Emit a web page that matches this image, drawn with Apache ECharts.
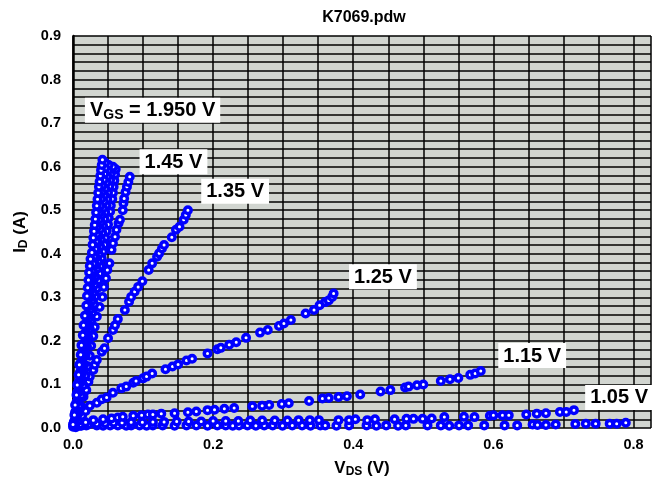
<!DOCTYPE html>
<html>
<head>
<meta charset="utf-8">
<script src="https://cdn.jsdelivr.net/npm/echarts@6/dist/echarts.min.js"></script>
<style>
  html, body { margin: 0; padding: 0; background: #ffffff; }
  #chart { width: 654px; height: 487px; }
</style>
</head>
<body>
<div id="chart"></div>
<script>
// Output characteristics, I_D vs V_DS, one sweep per gate voltage.
const chartTitle = 'K7069.pdw';

const xTickLabels = [0.0, 0.2, 0.4, 0.6, 0.8];
const yTickLabels = [0.0, 0.1, 0.2, 0.3, 0.4, 0.5, 0.6, 0.7, 0.8, 0.9];

// [V_DS (V), I_D (A)] pairs per gate voltage
const vgs095 = [[0.000,0.003],[0.010,0.005],[0.019,0.006],[0.034,0.006],[0.043,0.005],[0.053,0.006],[0.064,0.006],[0.076,0.005],[0.083,0.006],[0.095,0.006],[0.105,0.005],[0.114,0.006],[0.128,0.006],[0.145,0.005],[0.162,0.006],[0.176,0.006],[0.192,0.005],[0.206,0.006],[0.218,0.006],[0.228,0.005],[0.237,0.006],[0.249,0.006],[0.261,0.005],[0.273,0.006],[0.285,0.006],[0.299,0.005],[0.313,0.006],[0.327,0.006],[0.339,0.005],[0.353,0.006],[0.360,0.006],[0.376,0.005],[0.394,0.006],[0.419,0.006],[0.433,0.005],[0.447,0.006],[0.464,0.005],[0.475,0.006],[0.506,0.006],[0.525,0.006],[0.537,0.005],[0.551,0.006],[0.564,0.006],[0.587,0.006],[0.616,0.006],[0.634,0.006],[0.656,0.008],[0.663,0.007],[0.675,0.007],[0.689,0.008],[0.717,0.009],[0.732,0.010],[0.746,0.010],[0.766,0.010],[0.776,0.010],[0.789,0.012]];

const vgs105 = [[0.004,0.002],[0.012,0.005],[0.022,0.008],[0.034,0.010],[0.046,0.011],[0.058,0.012],[0.070,0.012],[0.083,0.013],[0.099,0.013],[0.114,0.014],[0.130,0.014],[0.148,0.015],[0.165,0.015],[0.183,0.015],[0.200,0.016],[0.218,0.016],[0.236,0.016],[0.253,0.017],[0.270,0.017],[0.288,0.017],[0.306,0.017],[0.322,0.018],[0.338,0.018],[0.351,0.018],[0.379,0.018],[0.394,0.018],[0.403,0.020],[0.420,0.018],[0.431,0.020],[0.459,0.020],[0.476,0.021],[0.486,0.021],[0.499,0.021],[0.512,0.022],[0.530,0.025],[0.558,0.026],[0.573,0.025],[0.595,0.028],[0.600,0.029],[0.613,0.029],[0.622,0.029],[0.647,0.031],[0.662,0.033],[0.675,0.034],[0.695,0.037],[0.704,0.037],[0.715,0.041]];

const vgs115 = [[0.004,0.004],[0.010,0.008],[0.018,0.013],[0.029,0.018],[0.043,0.020],[0.055,0.022],[0.064,0.024],[0.071,0.026],[0.086,0.028],[0.098,0.029],[0.107,0.031],[0.114,0.031],[0.126,0.033],[0.145,0.034],[0.164,0.036],[0.176,0.038],[0.192,0.041],[0.202,0.042],[0.216,0.044],[0.230,0.046],[0.256,0.050],[0.270,0.051],[0.280,0.053],[0.298,0.055],[0.308,0.057],[0.337,0.062],[0.356,0.068],[0.365,0.069],[0.379,0.071],[0.391,0.073],[0.410,0.077],[0.439,0.084],[0.453,0.087],[0.474,0.093],[0.479,0.095],[0.491,0.098],[0.500,0.100],[0.525,0.108],[0.538,0.112],[0.550,0.115],[0.567,0.122],[0.574,0.125],[0.582,0.131]];

const vgs125 = [[0.003,0.006],[0.008,0.017],[0.013,0.028],[0.018,0.039],[0.024,0.051],[0.034,0.058],[0.041,0.066],[0.048,0.070],[0.057,0.081],[0.069,0.091],[0.076,0.095],[0.086,0.104],[0.090,0.108],[0.100,0.114],[0.105,0.118],[0.113,0.125],[0.132,0.135],[0.142,0.141],[0.150,0.146],[0.162,0.155],[0.170,0.159],[0.192,0.171],[0.206,0.181],[0.211,0.184],[0.223,0.191],[0.233,0.197],[0.247,0.207],[0.267,0.219],[0.278,0.225],[0.294,0.234],[0.301,0.240],[0.311,0.248],[0.332,0.263],[0.344,0.271],[0.352,0.282],[0.360,0.289],[0.365,0.293],[0.370,0.301],[0.372,0.309]];

const vgs135 = [[0.003,0.018],[0.008,0.034],[0.012,0.049],[0.015,0.072],[0.019,0.087],[0.022,0.106],[0.024,0.118],[0.029,0.133],[0.031,0.145],[0.034,0.156],[0.041,0.175],[0.045,0.183],[0.050,0.206],[0.057,0.225],[0.060,0.236],[0.064,0.250],[0.074,0.271],[0.080,0.290],[0.083,0.301],[0.088,0.313],[0.093,0.324],[0.099,0.337],[0.108,0.363],[0.113,0.378],[0.120,0.393],[0.123,0.401],[0.127,0.412],[0.130,0.420],[0.141,0.438],[0.147,0.455],[0.152,0.462],[0.158,0.478],[0.161,0.489],[0.164,0.500]];

const vgs145 = [[0.002,0.010],[0.005,0.030],[0.009,0.052],[0.012,0.075],[0.015,0.098],[0.018,0.121],[0.021,0.142],[0.024,0.166],[0.026,0.189],[0.029,0.211],[0.031,0.232],[0.034,0.256],[0.038,0.278],[0.042,0.301],[0.044,0.324],[0.047,0.344],[0.049,0.363],[0.052,0.378],[0.055,0.409],[0.057,0.424],[0.060,0.439],[0.062,0.455],[0.065,0.470],[0.067,0.478],[0.071,0.500],[0.072,0.516],[0.073,0.527],[0.075,0.542],[0.077,0.554],[0.079,0.565],[0.081,0.577]];

const vgs155 = [[0.002,0.016],[0.005,0.039],[0.007,0.061],[0.009,0.083],[0.011,0.104],[0.013,0.125],[0.016,0.146],[0.018,0.167],[0.020,0.187],[0.022,0.207],[0.024,0.227],[0.026,0.246],[0.028,0.265],[0.030,0.284],[0.032,0.302],[0.034,0.320],[0.036,0.338],[0.038,0.355],[0.039,0.372],[0.041,0.389],[0.043,0.405],[0.045,0.421],[0.046,0.437],[0.048,0.452],[0.050,0.467],[0.051,0.482],[0.053,0.497],[0.054,0.511],[0.056,0.526],[0.057,0.540],[0.058,0.554],[0.059,0.568],[0.060,0.582],[0.061,0.594]];

const vgs165 = [[0.002,0.015],[0.004,0.038],[0.006,0.061],[0.008,0.083],[0.010,0.105],[0.012,0.127],[0.014,0.149],[0.016,0.170],[0.018,0.191],[0.020,0.212],[0.022,0.233],[0.024,0.253],[0.025,0.273],[0.027,0.292],[0.029,0.311],[0.031,0.329],[0.032,0.347],[0.034,0.365],[0.036,0.382],[0.037,0.399],[0.039,0.416],[0.040,0.432],[0.042,0.448],[0.043,0.464],[0.045,0.480],[0.046,0.495],[0.048,0.510],[0.049,0.525],[0.050,0.540],[0.052,0.555],[0.053,0.569],[0.054,0.583],[0.056,0.596],[0.057,0.600]];

const vgs175 = [[0.002,0.014],[0.004,0.037],[0.006,0.060],[0.008,0.083],[0.009,0.106],[0.011,0.129],[0.013,0.151],[0.015,0.173],[0.017,0.195],[0.019,0.217],[0.021,0.238],[0.022,0.259],[0.024,0.280],[0.026,0.300],[0.027,0.319],[0.029,0.338],[0.030,0.356],[0.032,0.374],[0.033,0.391],[0.035,0.408],[0.036,0.425],[0.037,0.441],[0.039,0.457],[0.040,0.473],[0.041,0.489],[0.043,0.505],[0.044,0.520],[0.045,0.535],[0.046,0.550],[0.048,0.564],[0.049,0.578],[0.050,0.591],[0.051,0.604]];

const vgs185 = [[0.001,0.012],[0.003,0.036],[0.005,0.059],[0.006,0.082],[0.008,0.105],[0.010,0.128],[0.011,0.150],[0.013,0.172],[0.015,0.194],[0.017,0.217],[0.018,0.239],[0.020,0.261],[0.022,0.283],[0.023,0.302],[0.025,0.322],[0.026,0.340],[0.028,0.359],[0.029,0.377],[0.030,0.394],[0.032,0.411],[0.033,0.428],[0.034,0.445],[0.035,0.462],[0.037,0.478],[0.038,0.494],[0.039,0.510],[0.040,0.526],[0.041,0.541],[0.042,0.556],[0.044,0.570],[0.045,0.584],[0.046,0.597],[0.046,0.609]];

const vgs195 = [[0.000,0.008],[0.002,0.030],[0.003,0.053],[0.005,0.076],[0.006,0.099],[0.008,0.122],[0.009,0.145],[0.011,0.168],[0.012,0.190],[0.014,0.213],[0.015,0.236],[0.017,0.258],[0.019,0.281],[0.020,0.303],[0.021,0.322],[0.022,0.340],[0.023,0.357],[0.024,0.372],[0.025,0.388],[0.027,0.403],[0.028,0.421],[0.029,0.437],[0.030,0.452],[0.031,0.466],[0.032,0.480],[0.033,0.495],[0.034,0.510],[0.035,0.525],[0.036,0.540],[0.037,0.554],[0.038,0.566],[0.039,0.579],[0.040,0.592],[0.041,0.604],[0.042,0.616]];

// Gate-voltage tags: anchor (V_DS, I_D) of each box's top-left corner, and its text
const tagX = [0.017, 0.095, 0.183, 0.394, 0.607, 0.731];
const tagY = [0.758, 0.640, 0.572, 0.376, 0.195, 0.099];
const tagText = ['{m|V}{s|GS}{m| = 1.950 V}', '1.45 V', '1.35 V', '1.25 V', '1.15 V', '1.05 V'];

const curves = [
  ['0.95 V', vgs095], ['1.05 V', vgs105], ['1.15 V', vgs115], ['1.25 V', vgs125],
  ['1.35 V', vgs135], ['1.45 V', vgs145], ['1.55 V', vgs155], ['1.65 V', vgs165],
  ['1.75 V', vgs175], ['1.85 V', vgs185], ['1.95 V', vgs195]
];

const FONT = '"Liberation Sans", Arial, Helvetica, sans-serif';

const chart = echarts.init(document.getElementById('chart'), null, { renderer: 'canvas' });

const markerSeries = curves.map(([name, pts]) => ({
  name: name,
  type: 'scatter',
  data: pts,
  symbol: 'circle',
  symbolSize: 6.5,
  itemStyle: { color: '#ffffff', borderColor: '#0000ff', borderWidth: 3.5, opacity: 1 },
  emphasis: { disabled: true },
  silent: true,
  z: 3
}));

const titleGraphic = {
  type: 'text',
  x: 364,
  y: 10,
  z: 20,
  style: {
    text: chartTitle,
    align: 'center',
    verticalAlign: 'top',
    fontFamily: FONT,
    fontWeight: 'bold',
    fontSize: 16,
    fill: '#000'
  }
};

const option = {
  animation: false,
  backgroundColor: '#ffffff',
  graphic: [titleGraphic],
  grid: {
    left: 73, right: 0, top: 36, bottom: 59,
    show: true, backgroundColor: '#d1d5d0', borderWidth: 0
  },
  xAxis: {
    type: 'value',
    min: 0, max: 0.825, interval: 0.05,
    axisLine: { show: false },
    axisTick: { show: false },
    splitLine: { show: true, lineStyle: { color: '#000', width: 1.5 } },
    axisLabel: {
      margin: 9,
      color: '#000', fontFamily: FONT, fontWeight: 'bold', fontSize: 14.5,
      formatter: (v) => xTickLabels.some(t => Math.abs(t - v) < 1e-6) ? v.toFixed(1) : ''
    },
    name: '{m|V}{s|DS}{m| (V)}',
    nameLocation: 'middle',
    nameGap: 31,
    nameTextStyle: {
      rich: {
        m: { fontFamily: FONT, fontWeight: 'bold', fontSize: 17, color: '#000' },
        s: { fontFamily: FONT, fontWeight: 'bold', fontSize: 12, color: '#000', padding: [7, 0, 0, 0] }
      }
    }
  },
  yAxis: {
    type: 'value',
    min: 0, max: 0.9, interval: 0.02,
    axisLine: { show: true, lineStyle: { color: '#000', width: 2.5 } },
    axisTick: { show: false },
    splitLine: { show: true, lineStyle: { color: '#000', width: 1.5 } },
    axisLabel: {
      margin: 12,
      color: '#000', fontFamily: FONT, fontWeight: 'bold', fontSize: 14.5,
      formatter: (v) => yTickLabels.some(t => Math.abs(t - v) < 1e-6) ? v.toFixed(1) : ''
    },
    name: '{m|I}{s|D}{m| (A)}',
    nameLocation: 'middle',
    nameGap: 38,
    nameTextStyle: {
      rich: {
        m: { fontFamily: FONT, fontWeight: 'bold', fontSize: 17, color: '#000' },
        s: { fontFamily: FONT, fontWeight: 'bold', fontSize: 12, color: '#000', padding: [7, 0, 0, 0] }
      }
    }
  },
  series: markerSeries
};

chart.setOption(option);

// Place the gate-voltage tags through the axis scales.
const tagGraphics = tagText.map((txt, i) => {
  const p = chart.convertToPixel({ gridIndex: 0 }, [tagX[i], tagY[i]]);
  return {
    type: 'text',
    x: p[0],
    y: p[1],
    z: 20,
    style: {
      text: txt,
      align: 'left',
      verticalAlign: 'top',
      backgroundColor: '#ffffff',
      padding: [3, 5, 2, 5],
      fontFamily: FONT,
      fontWeight: 'bold',
      fontSize: 20,
      lineHeight: 20,
      fill: '#000',
      rich: {
        m: { fontFamily: FONT, fontWeight: 'bold', fontSize: 20, fill: '#000' },
        s: { fontFamily: FONT, fontWeight: 'bold', fontSize: 14, fill: '#000', padding: [8, 0, 0, 0] }
      }
    }
  };
});

chart.setOption({ graphic: [titleGraphic].concat(tagGraphics) });
</script>
</body>
</html>
